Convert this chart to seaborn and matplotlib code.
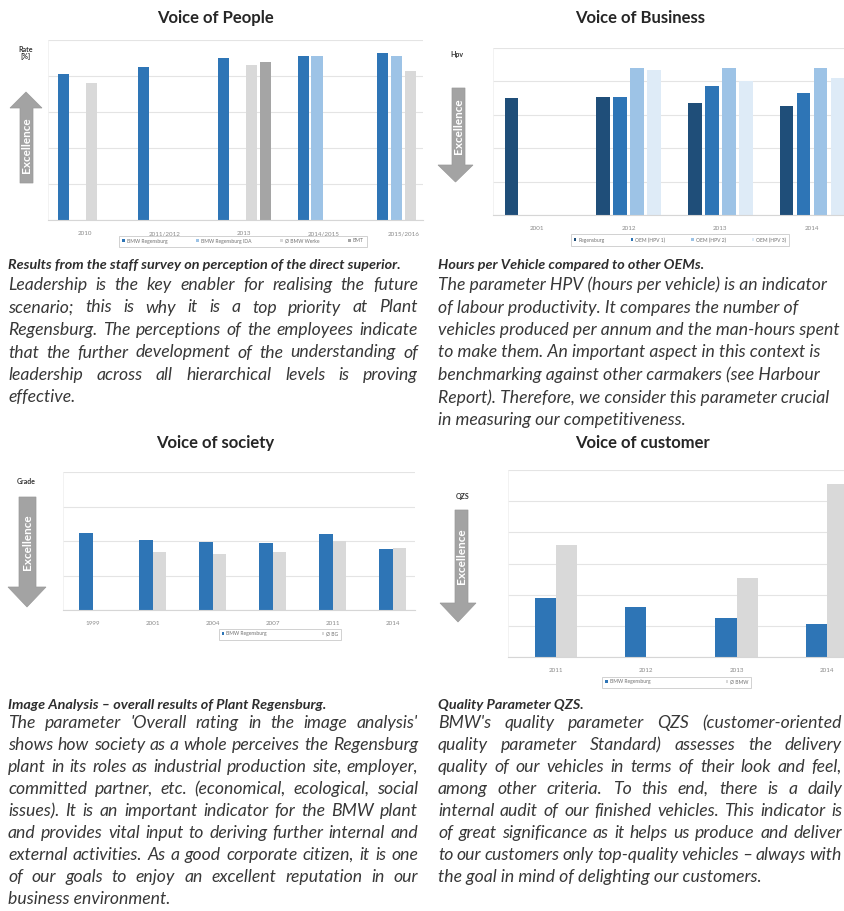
import matplotlib
matplotlib.use('Agg')
import matplotlib.pyplot as plt
import numpy as np
import pandas as pd
import seaborn as sns
from matplotlib.patches import Polygon

nan = np.nan

# ---------------- data ----------------
people_years = ["2010", "2011/2012", "2013", "2014/2015", "2015/2016"]
people_series = ["BMW Regensburg", "BMW Regensburg IDA", "Ø BMW Werke", "BMT"]
people_bmw = [81, 85, 90, 91, 93]
people_ida = [nan, nan, nan, 91, 91]
people_avg = [76, nan, 86, nan, 83]
people_bmt = [nan, nan, 88, nan, nan]

business_years = ["2001", "2012", "2013", "2014"]
business_series = ["Regensburg", "OEM (HPV 1)", "OEM (HPV 2)", "OEM (HPV 3)"]
business_rgb = [35.0, 35.3, 33.5, 32.5]
business_oem1 = [nan, 35.3, 38.7, 36.5]
business_oem2 = [nan, 44.0, 44.0, 44.0]
business_oem3 = [nan, 43.5, 40.0, 41.0]

society_years = ["1999", "2001", "2004", "2007", "2011", "2014"]
society_series = ["BMW Regensburg", "Ø BG"]
society_bmw = [2.23, 2.03, 1.97, 1.94, 2.20, 1.77]
society_avg = [nan, 1.68, 1.62, 1.68, 2.00, 1.80]

customer_years = ["2011", "2012", "2013", "2014"]
customer_series = ["BMW Regensburg", "Ø BMW"]
customer_bmw = [1.90, 1.60, 1.25, 1.06]
customer_avg = [3.60, nan, 2.55, 5.55]

# ---------------- texts ----------------
cap_people = "Results from the staff survey on perception of the direct superior."
txt_people = ["Leadership is the key enabler for realising the future",
              "scenario; this is why it is a top priority at Plant",
              "Regensburg. The perceptions of the employees indicate",
              "that the further development of the understanding of",
              "leadership across all hierarchical levels is proving",
              "effective."]
cap_business = "Hours per Vehicle compared to other OEMs."
txt_business = ["The parameter HPV (hours per vehicle) is an indicator",
                "of labour productivity. It compares the number of",
                "vehicles produced per annum and the man-hours spent",
                "to make them. An important aspect in this context is",
                "benchmarking against other carmakers (see Harbour",
                "Report). Therefore, we consider this parameter crucial",
                "in measuring our competitiveness."]
cap_society = "Image Analysis – overall results of Plant Regensburg."
txt_society = ["The parameter 'Overall rating in the image analysis'",
               "shows how society as a whole perceives the Regensburg",
               "plant in its roles as industrial production site, employer,",
               "committed partner, etc. (economical, ecological, social",
               "issues). It is an important indicator for the BMW plant",
               "and provides vital input to deriving further internal and",
               "external activities. As a good corporate citizen, it is one",
               "of our goals to enjoy an excellent reputation in our",
               "business environment."]
cap_customer = "Quality Parameter QZS."
txt_customer = ["BMW's quality parameter QZS (customer-oriented",
                "quality parameter Standard) assesses the delivery",
                "quality of our vehicles in terms of their look and feel,",
                "among other criteria. To this end, there is a daily",
                "internal audit of our finished vehicles. This indicator is",
                "of great significance as it helps us produce and deliver",
                "to our customers only top-quality vehicles – always with",
                "the goal in mind of delighting our customers."]

# ---------------- setup ----------------
W, H = 845, 911
sns.set_theme(style='white')
plt.rcParams['font.family'] = ['Lato', 'DejaVu Sans']

fig = plt.figure(figsize=(W / 100, H / 100), dpi=100)
ov = fig.add_axes([0, 0, 1, 1])
ov.set_xlim(0, W)
ov.set_ylim(H, 0)
ov.axis('off')
renderer = fig.canvas.get_renderer()
TXT = '#383838'


def px_axes(l, t, r, b):
    return fig.add_axes([l / W, 1 - b / H, (r - l) / W, (b - t) / H])


def chart(ax, years, series, values, colors, width, gap, ymax, ystep, xlim,
          leg_xy, leg_cols, colspace, unit, unit_xy):
    rows = []
    for s, vals in zip(series, values):
        for yr, v in zip(years, vals):
            if not np.isnan(v):
                rows.append((yr, s, v))
    df = pd.DataFrame(rows, columns=['year', 'series', 'value'])
    sns.barplot(data=df, x='year', y='value', hue='series', order=years,
                hue_order=series, palette=dict(zip(series, colors)),
                saturation=1, width=width, gap=gap, errorbar=None,
                linewidth=0, ax=ax)
    handles, labels = ax.get_legend_handles_labels()
    if ax.get_legend() is not None:
        ax.get_legend().remove()
    ax.set_ylim(0, ymax)
    ax.set_xlim(*xlim)
    ax.set_yticks(np.arange(0, ymax + ystep / 2, ystep))
    ax.yaxis.grid(True, color='#E4E4E4', lw=0.8)
    ax.set_axisbelow(True)
    ax.set_yticklabels([])
    ax.set_xlabel('')
    ax.set_ylabel('')
    ax.tick_params(left=False, bottom=False, labelsize=4.5,
                   labelcolor='#8A8A8A', pad=2)
    for sp in ['top', 'right']:
        ax.spines[sp].set_visible(False)
    ax.spines['left'].set_color('#F0F0F0')
    ax.spines['left'].set_linewidth(0.6)
    ax.spines['bottom'].set_color('#D6D6D6')
    ax.spines['bottom'].set_linewidth(0.8)
    ax.patch.set_alpha(0)
    leg = ax.legend(handles, labels, loc='center', bbox_to_anchor=leg_xy,
                    bbox_transform=ov.transData, ncol=leg_cols, fontsize=3.6,
                    frameon=True, fancybox=False, edgecolor='#BDBDBD',
                    handlelength=0.5, handleheight=0.5, handletextpad=0.4,
                    columnspacing=colspace, borderpad=0.6, labelcolor='#707070')
    leg.get_frame().set_linewidth(0.6)
    ov.text(unit_xy[0], unit_xy[1], unit, ha='center', va='center',
            fontsize=5, fontweight='bold', color='#333333', linespacing=1.0)


# ---------------- charts ----------------
ax1 = px_axes(48, 40, 423, 220)
chart(ax1, people_years, people_series,
      [people_bmw, people_ida, people_avg, people_bmt],
      ['#2E75B6', '#9DC3E6', '#D9D9D9', '#A5A5A5'], 0.7, 0.2, 100, 20,
      (-0.46, 4.24), (243, 241), 4, 5.8, "Rate\n[%]", (26, 53))

ax2 = px_axes(493, 48, 845, 215)
chart(ax2, business_years, business_series,
      [business_rgb, business_oem1, business_oem2, business_oem3],
      ['#1F4E79', '#2E75B6', '#9DC3E6', '#DEEBF7'], 0.74, 0.2, 50, 10,
      (-0.48, 3.36), (680, 240), 4, 5.2, "Hpv", (457, 55))

ax3 = px_axes(63, 472, 415, 610)
chart(ax3, society_years, society_series, [society_bmw, society_avg],
      ['#2E75B6', '#D9D9D9'], 0.45, 0, 4, 1,
      (-0.5, 5.37), (280, 634), 2, 11.0, "Grade", (26, 482))

ax4 = px_axes(508, 470, 845, 657)
chart(ax4, customer_years, customer_series, [customer_bmw, customer_avg],
      ['#2E75B6', '#D9D9D9'], 0.47, 0, 6, 1,
      (-0.53, 3.2), (677, 682), 2, 15.0, "QZS", (463, 497))

# ---------------- titles ----------------
for t, x, y in [("Voice of People", 215, 18), ("Voice of Business", 640, 18),
                ("Voice of society", 215, 443), ("Voice of customer", 642, 443)]:
    ov.text(x, y, t, ha='center', va='center', fontsize=12,
            fontweight='bold', color='#262626')


# ---------------- arrows ----------------
def arrow(xs0, xs1, xh0, xh1, y_base, y_neck, y_tip, tx, ty):
    mid = (xh0 + xh1) / 2
    pts = [(xs0, y_base), (xs1, y_base), (xs1, y_neck), (xh1, y_neck),
           (mid, y_tip), (xh0, y_neck), (xs0, y_neck)]
    ov.add_patch(Polygon(pts, closed=True, facecolor='#A3A3A3',
                         edgecolor='#9A9A9A', lw=0.5))
    ov.text(tx, ty, "Excellence", rotation=90, ha='center', va='center',
            fontsize=8.5, color='white', fontweight='bold')


arrow(20, 33, 10, 42, 183, 108, 92, 26.5, 145)
arrow(452, 465, 438, 473, 88, 165, 182, 458.5, 126)
arrow(19, 36, 8, 46, 497, 587, 607, 27.5, 542)
arrow(455, 468, 440, 476, 510, 603, 622, 461.5, 556)


# ---------------- paragraphs ----------------
def text_width(s, fs, **kw):
    t = ov.text(0, 0, s, fontsize=fs, **kw)
    w = t.get_window_extent(renderer).width
    t.remove()
    return w


BODY = dict(style='italic', color=TXT)
CAP = dict(style='italic', fontweight='bold', color='#2E2E2E')

# fit body font size to the column width
ref_fs = 10
widest = max(text_width(l, ref_fs, **BODY) for l in txt_people + txt_society)
body_fs = ref_fs * 408 / widest
cap_fs = ref_fs * 392 / text_width(cap_people, ref_fs, **CAP)


def paragraph(lines, x0, x1, y0, dy, justify=True):
    for i, line in enumerate(lines):
        y = y0 + i * dy
        words = line.split(' ')
        if not justify or i == len(lines) - 1 or len(words) == 1:
            ov.text(x0, y, line, fontsize=body_fs, va='center', ha='left', **BODY)
            continue
        ts = [ov.text(0, y, w, fontsize=body_fs, va='center', ha='left', **BODY)
              for w in words]
        widths = [t.get_window_extent(renderer).width for t in ts]
        gap = (x1 - x0 - sum(widths)) / (len(words) - 1)
        x = x0
        for t, w in zip(ts, widths):
            t.set_x(x)
            x += w + gap


ov.text(8, 265, cap_people, fontsize=cap_fs, va='center', **CAP)
ov.text(438, 265, cap_business, fontsize=cap_fs, va='center', **CAP)
ov.text(8, 705, cap_society, fontsize=cap_fs, va='center', **CAP)
ov.text(438, 705, cap_customer, fontsize=cap_fs, va='center', **CAP)

paragraph(txt_people, 8, 418, 285, 22.5)
paragraph(txt_business, 438, 843, 285, 22.5, justify=False)
paragraph(txt_society, 8, 418, 723, 22.0)
paragraph(txt_customer, 438, 842, 723, 22.0)

fig.savefig('out.png', dpi=100)
